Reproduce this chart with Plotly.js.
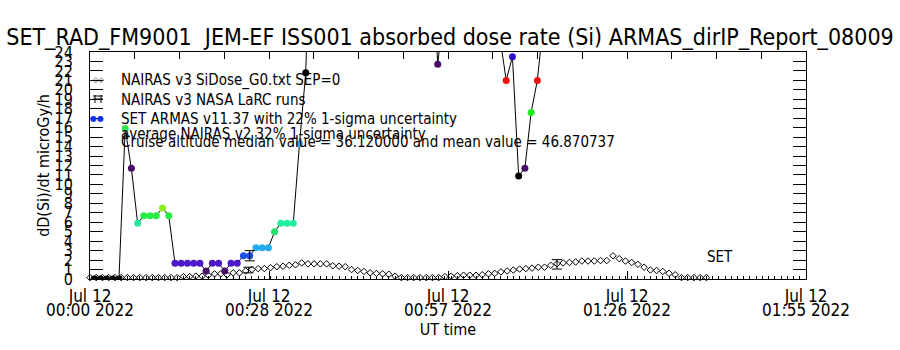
<!DOCTYPE html>
<html>
<head>
<meta charset="utf-8">
<script src="https://cdn.plot.ly/plotly-3.0.1.min.js"></script>
<style>html,body{margin:0;padding:0;background:#fff;}#chart{width:900px;height:350px;}</style>
</head>
<body>
<div id="chart"></div>
<script>
// ---- data (time in minutes after 2022-07-12 00:00 UT) ----
var chartTitle = "SET_RAD_FM9001 \u00a0JEM-EF ISS001 absorbed dose rate (Si) ARMAS_dirIP_Report_08009";

var tickMinutes = [0, 28.75, 57.5, 86.25, 115];
var tickDates = ["Jul 12", "Jul 12", "Jul 12", "Jul 12", "Jul 12"];
var tickTimes = ["00:00 2022", "00:28 2022", "00:57 2022", "01:26 2022", "01:55 2022"];

// NAIRAS v3 SiDose_G0.txt SEP=0 (open diamonds), one per minute
var nairasMin = [];
for (var k = 0; k <= 99; k++) nairasMin.push(k);
var nairasDose = [
  0.15,0.15,0.15,0.15,0.15,0.15,0.15,0.15,0.15,0.15,
  0.15,0.15,0.15,0.15,0.15,0.25,0.25,0.3,0.3,0.4,
  0.55,0.55,0.45,0.65,0.65,0.85,1.0,1.1,1.1,1.2,
  1.3,1.35,1.45,1.5,1.7,1.6,1.6,1.6,1.6,1.4,
  1.35,1.3,1.0,0.9,0.8,0.65,0.6,0.55,0.5,0.3,
  0.15,0.15,0.15,0.15,0.15,0.15,0.15,0.25,0.3,0.35,
  0.4,0.4,0.4,0.45,0.55,0.6,0.75,0.85,0.95,1.05,
  1.1,1.15,1.25,1.25,1.45,1.6,1.7,1.75,1.8,1.9,
  1.9,1.9,1.95,1.95,2.45,2.15,1.9,1.75,1.55,1.25,
  0.95,0.9,0.8,0.6,0.45,0.15,0.15,0.15,0.15,0.15
];

// SET ARMAS v11.37 measurements (values above 24 are off-scale)
var armasMin = [
  0.65,1.65,2.65,3.65,4.65,5.65,6.65,7.65,8.65,9.65,
  10.65,11.65,12.65,13.65,14.65,15.65,16.65,17.65,18.65,19.65,
  20.65,21.65,22.65,23.65,24.65,25.65,26.65,27.65,28.65,29.65,
  30.65,31.65,32.65,33.65,34.65,35.65,36.65,37.65,38.65,39.65,
  40.65,41.65,42.65,43.65,44.65,45.65,46.65,47.65,48.65,49.65,
  50.65,51.65,52.65,53.65,54.65,55.85,56.85,57.85,58.85,59.85,
  60.85,61.85,62.85,63.85,64.85,65.85,66.85,67.85,68.85,69.85,
  70.85,71.85,72.85,73.85,74.85
];
var armasDose = [
  0,0,0,0,0,15.9,11.7,5.9,6.7,6.7,
  6.7,7.5,6.7,1.66,1.66,1.66,1.66,1.66,0.85,1.66,
  1.66,0.85,1.66,1.66,2.46,2.46,3.3,3.3,3.3,5.0,
  5.9,5.9,5.9,14.3,21.8,43,49,53,56,58,
  60,61,62,62,61,60,58,56,53,50,
  47,45,42,40,37,22.7,31,38,44,48,
  50,50,47,42,35,25.5,21.0,23.5,10.9,11.7,
  17.6,21.0,26.2,33,40
];
var armasColor = [
  "#000000","#000000","#000000","#000000","#000000","#2de84a","#4a0a6a","#25e89a","#22ee44","#22ee44",
  "#22ee44","#88ee22","#22ee44","#4b19c8","#4b19c8","#4b19c8","#4b19c8","#4b19c8","#4a0a6a","#4b19c8",
  "#4b19c8","#4a0a6a","#4b19c8","#4b19c8","#1a4ee8","#1a4ee8","#22aaee","#22aaee","#22aaee","#22e066",
  "#22eea0","#22eea0","#22eea0","#33aadd","#000000","#000000","#000000","#000000","#000000","#000000",
  "#000000","#000000","#000000","#000000","#000000","#000000","#000000","#000000","#000000","#000000",
  "#000000","#000000","#000000","#000000","#000000","#4a0a6a","#000000","#000000","#000000","#000000",
  "#000000","#000000","#000000","#000000","#000000","#000000","#ee1111","#3311cc","#000000","#4a0a6a",
  "#22ee22","#ee1111","#000000","#000000","#000000"
];

// 22% 1-sigma uncertainty shown on one ARMAS point
var armasErrMin = [25.65];
var armasErrDose = [2.46];
var armasErrSize = [0.54];

// average NAIRAS v2 32% 1-sigma uncertainty
var nairasErrMin = [25.45, 75.0];
var nairasErrDose = [0.95, 1.55];
var nairasErrSize = [0.3, 0.5];

var legendLines = [
  "NAIRAS v3 SiDose_G0.txt SEP=0",
  "NAIRAS v3 NASA LaRC runs",
  "SET ARMAS v11.37 with 22% 1-sigma uncertainty",
  "average NAIRAS v2 32% 1-sigma uncertainty",
  "Cruise altitude median value = 36.120000 and mean value = 46.870737"
];

// ---- plot ----
var FONT = "'DejaVu Sans Condensed', 'Liberation Sans Narrow', sans-serif";

var traces = [
  {x: nairasMin, y: nairasDose, type: "scatter", mode: "markers", cliponaxis: false,
   marker: {symbol: "diamond-open", size: 5, color: "#000", line: {width: 1, color: "#000"}}},
  {x: armasMin, y: armasDose, type: "scatter", mode: "lines+markers",
   line: {color: "#000", width: 1}, marker: {size: 7, color: armasColor}},
  {x: armasErrMin, y: armasErrDose, type: "scatter", mode: "markers", marker: {size: 1, opacity: 0},
   error_y: {type: "data", array: armasErrSize, color: "#000", thickness: 1, width: 5}},
  {x: nairasErrMin, y: nairasErrDose, type: "scatter", mode: "markers", marker: {size: 1, opacity: 0},
   error_y: {type: "data", array: nairasErrSize, color: "#000", thickness: 1, width: 5}},
  {x: [], y: [], xaxis: "x2", type: "scatter"},
  {x: [], y: [], xaxis: "x3", type: "scatter"}
];

var L = 90, R = 806, T = 52, B = 279;
function px(X) { return (X - L) / (R - L); }
function py(Y) { return (B - Y) / (B - T); }

var rowsY = [80.5, 100, 119, 134, 142];
var annotations = legendLines.map(function (s, i) {
  return {text: s, xref: "paper", yref: "paper", x: px(119), y: py(rowsY[i]), xanchor: "left", yanchor: "middle",
          showarrow: false, font: {family: FONT, size: 15, color: "#000"}};
});
annotations.push({text: "SET", xref: "paper", yref: "paper", x: px(705), y: py(257), xanchor: "left", yanchor: "middle",
                  showarrow: false, font: {family: FONT, size: 15, color: "#000"}});
annotations.push({text: "◇◇", xref: "paper", yref: "paper", x: px(98), y: py(80), xanchor: "center", yanchor: "middle",
                  showarrow: false, font: {family: "DejaVu Sans", size: 7, color: "#000"}});
annotations.push({text: "●●", xref: "paper", yref: "paper", x: px(97), y: py(118), xanchor: "center", yanchor: "middle",
                  showarrow: false, font: {family: "DejaVu Sans", size: 8, color: "#1133ee"}});

var shapes = [
  {type: "line", xref: "paper", yref: "paper", x0: px(93), x1: px(103), y0: py(99), y1: py(99), line: {color: "#000", width: 1}},
  {type: "line", xref: "paper", yref: "paper", x0: px(95), x1: px(95), y0: py(95), y1: py(103), line: {color: "#000", width: 1}},
  {type: "line", xref: "paper", yref: "paper", x0: px(101), x1: px(101), y0: py(95), y1: py(103), line: {color: "#000", width: 1}},
  {type: "line", xref: "paper", yref: "paper", x0: px(93), x1: px(103), y0: py(96), y1: py(96), line: {color: "#000", width: 1}}
];

var layout = {
  width: 900, height: 350,
  margin: {l: L, r: 900 - R, t: T, b: 350 - B, pad: 0},
  paper_bgcolor: "#fff", plot_bgcolor: "#fff",
  showlegend: false,
  font: {family: FONT, color: "#000"},
  title: {text: chartTitle, font: {family: FONT, size: 23, color: "#000"},
          xref: "container", yref: "container", x: 0.5, xanchor: "center", y: 1 - 37 / 350, yanchor: "middle"},
  xaxis: {range: [0, 115], tickmode: "array", tickvals: tickMinutes, ticktext: tickDates,
          showline: true, linecolor: "#000", linewidth: 1, mirror: false, showgrid: false, zeroline: false,
          ticks: "inside", ticklen: 8, tickcolor: "#000", tickwidth: 1,
          minor: {dtick: 1, ticklen: 3, tickcolor: "#000", ticks: "inside", showgrid: false},
          tickfont: {family: FONT, size: 17, color: "#000"}, ticklabelstandoff: 2},
  xaxis3: {range: [0, 115], overlaying: "x", side: "bottom", anchor: "y", showline: false, showgrid: false,
           zeroline: false, ticks: "", tickmode: "array", tickvals: tickMinutes, ticktext: tickTimes,
           tickfont: {family: FONT, size: 17, color: "#000"}, ticklabelstandoff: 19,
           title: {text: "UT time", font: {family: FONT, size: 16, color: "#000"}, standoff: 3}},
  xaxis2: {range: [0, 115], overlaying: "x", side: "top", anchor: "y", showline: true, linecolor: "#000", linewidth: 1,
           showgrid: false, zeroline: false, showticklabels: false, tickmode: "linear", tick0: 0, dtick: 7.1875,
           ticks: "inside", ticklen: 7, tickcolor: "#000"},
  yaxis: {range: [0, 24], tickmode: "linear", tick0: 0, dtick: 1,
          showline: true, linecolor: "#000", linewidth: 1, mirror: "ticks", showgrid: false, zeroline: false,
          ticks: "inside", ticklen: 13, tickcolor: "#000", tickwidth: 1,
          tickfont: {family: FONT, size: 16, color: "#000"}, ticklabelstandoff: 13,
          title: {text: "dD(Si)/dt microGy/h", font: {family: FONT, size: 16, color: "#000"}, standoff: 0}},
  annotations: annotations,
  shapes: shapes
};

Plotly.newPlot("chart", traces, layout, {staticPlot: true, displayModeBar: false});
</script>
</body>
</html>
